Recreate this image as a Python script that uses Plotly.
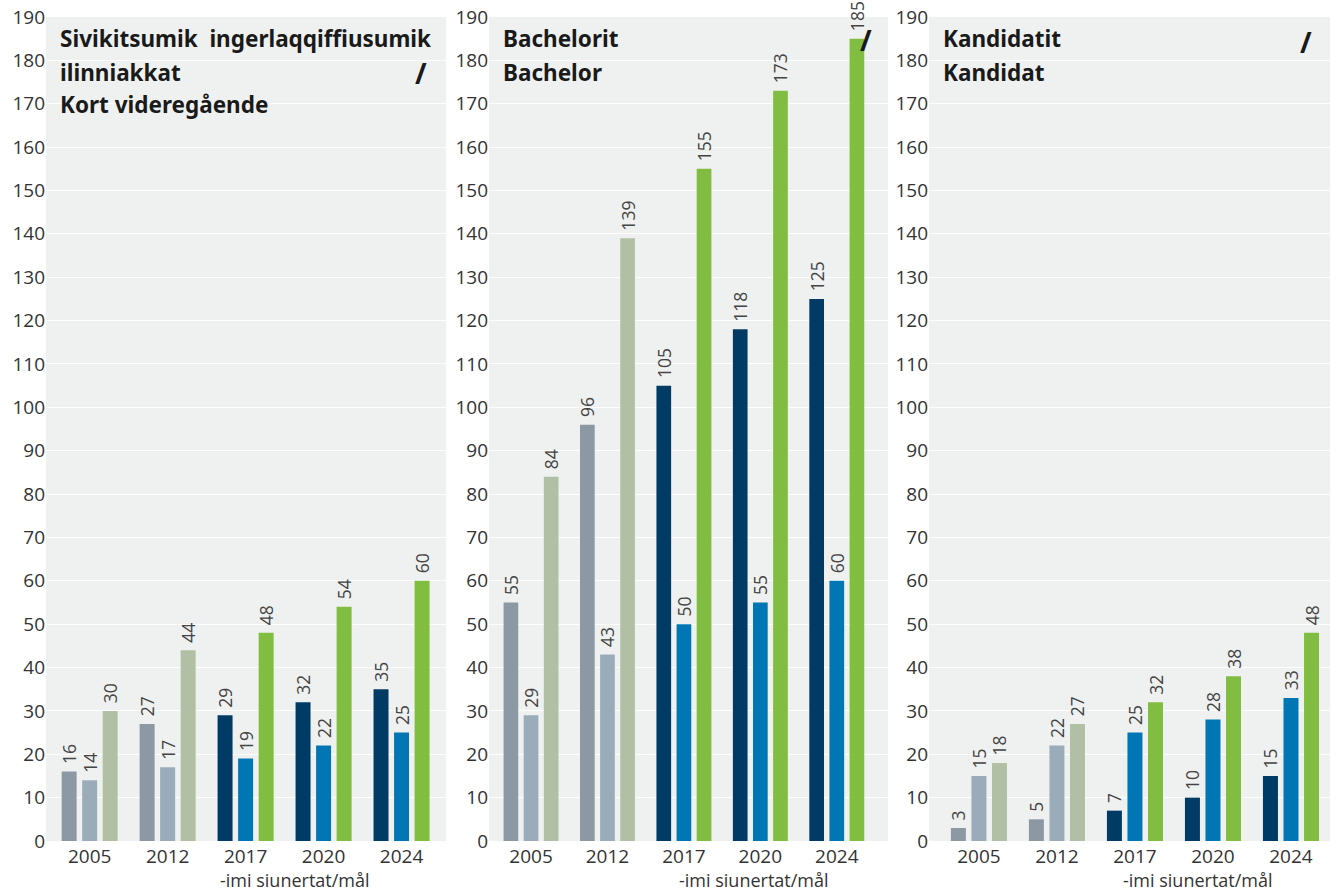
import plotly.graph_objects as go

years = ["2005", "2012", "2017", "2020", "2024"]

short_a = [16, 27, 29, 32, 35]
short_b = [14, 17, 19, 22, 25]
short_c = [30, 44, 48, 54, 60]

bach_a = [55, 96, 105, 118, 125]
bach_b = [29, 43, 50, 55, 60]
bach_c = [84, 139, 155, 173, 185]

cand_a = [3, 5, 7, 10, 15]
cand_b = [15, 22, 25, 28, 33]
cand_c = [18, 27, 32, 38, 48]

titles = [
    ["Sivikitsumik&nbsp;&nbsp;ingerlaqqiffiusumik", "ilinniakkat", "Kort videregående"],
    ["Bachelorit", "Bachelor"],
    ["Kandidatit", "Kandidat"],
]
x_title = "-imi siunertat/mål"

col_a = ["#8c99a5", "#8c99a5", "#003b66", "#003b66", "#003b66"]
col_b = ["#9aacb9", "#9aacb9", "#0077b4", "#0077b4", "#0077b4"]
col_c = ["#b1c0a5", "#b1c0a5", "#80bd41", "#80bd41", "#80bd41"]

W, H = 1338, 894
MT, MB = 17, 53
domains = [(46, 446), (489, 888), (929, 1330)]
xranges = [(-0.56, 4.57), (-0.55, 4.67), (-0.64, 4.50)]
TICKFONT = "'Open Sans', sans-serif"
LABELFONT = "'Open Sans', sans-serif"
TITLEFONT = "'Noto Sans', sans-serif"

fig = go.Figure()
panels = [(short_a, short_b, short_c), (bach_a, bach_b, bach_c), (cand_a, cand_b, cand_c)]
for i, (a, b, c) in enumerate(panels):
    xa = "x" if i == 0 else f"x{i+1}"
    ya = "y" if i == 0 else f"y{i+1}"
    for vals, cols in ((a, col_a), (b, col_b), (c, col_c)):
        fig.add_trace(go.Bar(
            x=years, y=vals, xaxis=xa, yaxis=ya,
            marker=dict(color=cols, line=dict(width=0)),
            text=["\u00a0" + str(v) for v in vals], textposition="outside",
            textangle=-90, cliponaxis=False, constraintext="none",
            textfont=dict(size=17.5, color="#444444", family=LABELFONT),
            showlegend=False, hoverinfo="skip",
        ))

layout = dict(
    width=W, height=H,
    margin=dict(l=0, r=0, t=MT, b=MB, autoexpand=False),
    paper_bgcolor="white",
    plot_bgcolor="#eff1f0",
    barmode="group", bargap=0.21, bargroupgap=0.27,
    font=dict(family=TICKFONT, color="#333333"),
)
for i, (x0, x1) in enumerate(domains):
    sx = "" if i == 0 else str(i + 1)
    layout[f"xaxis{sx}"] = dict(
        domain=[x0 / W, x1 / W], type="category", range=list(xranges[i]),
        showgrid=False, zeroline=False, showline=False,
        tickfont=dict(size=19, color="#333333", family=TICKFONT),
        ticks="", anchor=f"y{sx}", ticklabelstandoff=2,
    )
    layout[f"yaxis{sx}"] = dict(
        range=[0, 190], dtick=10, anchor=f"x{sx}",
        showgrid=True, gridcolor="white", gridwidth=1.2,
        zeroline=False, showline=False, ticks="",
        tickfont=dict(size=19, color="#333333", family=TICKFONT),
        ticklabelstandoff=0,
    )
fig.update_layout(**layout)


def xp(px):
    return px / W


def yp(py):
    return (H - MB - py) / (H - MT - MB)


ann = []
title_x = [58, 501, 941]
for i, lines in enumerate(titles):
    for j, line in enumerate(lines):
        ann.append(dict(
            x=xp(title_x[i]), y=yp(39 + 33 * j), xref="paper", yref="paper",
            text=f"<b>{line}</b>", showarrow=False, xanchor="left", yanchor="middle",
            font=dict(size=22.5, color="#1a1a1a", family=TITLEFONT),
        ))
slashes = [(421, 73), (866, 40), (1306, 42)]
for sx_, sy_ in slashes:
    ann.append(dict(
        x=xp(sx_), y=yp(sy_), xref="paper", yref="paper", text="<b>/</b>",
        showarrow=False, xanchor="center", yanchor="middle",
        font=dict(size=28, color="#1a1a1a", family=TITLEFONT),
    ))
for cx in (295, 754, 1198):
    ann.append(dict(
        x=xp(cx), y=yp(894), xref="paper", yref="paper", text=x_title,
        showarrow=False, xanchor="center", yanchor="bottom",
        font=dict(size=18, color="#333333", family=LABELFONT),
    ))
fig.update_layout(annotations=ann)

fig.write_html("out.html", config={"displayModeBar": False},
               post_script="document.body.style.margin='0';")
